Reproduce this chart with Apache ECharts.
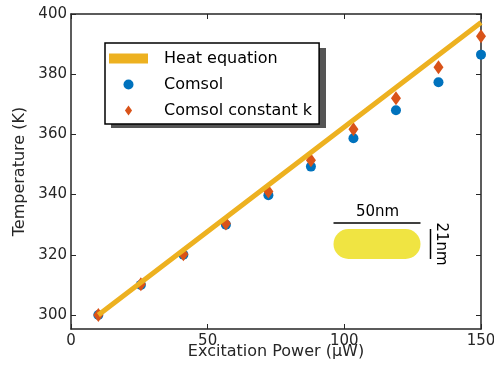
<!DOCTYPE html>
<html>
<head>
<meta charset="utf-8">
<script src="https://cdn.jsdelivr.net/npm/echarts@6/dist/echarts.min.js"></script>
<style>
  html, body { margin: 0; padding: 0; background: #fff; }
  #chart { width: 494px; height: 366px; }
</style>
</head>
<body>
<div id="chart"></div>
<script>
// excitation power (uW)
const power = [10, 25.56, 41.11, 56.67, 72.22, 87.78, 103.33, 118.89, 134.44, 150];
// temperatures (K)
const heatEquation = [300, 310.8, 321.6, 332.4, 343.2, 354.0, 364.8, 375.6, 386.4, 397.2];
const comsol = [300, 310, 320, 330, 339.8, 349.3, 358.7, 368, 377.3, 386.5];
const comsolConstK = [300, 310.2, 320.2, 330.4, 341, 351.4, 361.7, 372, 382.3, 392.6];
const yTicks = [300, 320, 340, 360, 380, 400];

const pair = (xs, ys) => xs.map((x, i) => [x, ys[i]]);

const FONT = 'DejaVu Sans';
const AXIS = '#262626';
const diamond = 'path://M0,-7L5,0L0,7L-5,0Z';

let myChart = echarts.init(document.getElementById('chart'), null, { renderer: 'canvas' });

const yMin = 295.35, yMax = 400;

const option = {
    animation: false,
    backgroundColor: '#fff',
    grid: { left: 71, right: 13, top: 14, bottom: 37, outerBoundsMode: 'none' },
    legend: {
        left: 105,
        top: 43,
        orient: 'vertical',
        itemWidth: 39,
        itemHeight: 10,
        itemGap: 9,
        padding: [7, 7, 5, 4],
        backgroundColor: '#fff',
        borderColor: '#000',
        borderWidth: 1.5,
        borderRadius: 0,
        z: 10,
        textStyle: { fontFamily: FONT, fontSize: 16, color: '#000', padding: [0, 0, 0, 11], lineHeight: 17 },
        data: [
            { name: 'Heat equation', icon: 'rect' },
            { name: 'Comsol', icon: 'circle' },
            { name: 'Comsol constant k', icon: diamond }
        ]
    },
    xAxis: [{
        type: 'value',
        min: 0, max: 150, interval: 50,
        name: 'Excitation Power (μW)',
        nameLocation: 'middle',
        nameGap: 15,
        nameMoveOverlap: false,
        nameTextStyle: { fontFamily: FONT, fontSize: 16, color: AXIS },
        axisLine: { show: true, lineStyle: { color: AXIS, width: 1.5 } },
        axisTick: { show: true, inside: true, length: 5, lineStyle: { color: AXIS } },
        axisLabel: { fontFamily: FONT, fontSize: 15, color: AXIS, margin: 5 },
        splitLine: { show: false }
    }, {
        type: 'value',
        position: 'top',
        min: 0, max: 150, interval: 50,
        axisLine: { show: true, onZero: false, lineStyle: { color: AXIS, width: 1.5 } },
        axisTick: { show: true, inside: true, length: 5, lineStyle: { color: AXIS } },
        axisLabel: { show: false },
        splitLine: { show: false }
    }],
    yAxis: [{
        type: 'value',
        min: yMin, max: yMax,
        name: 'Temperature (K)',
        nameLocation: 'middle',
        nameGap: 43,
        nameMoveOverlap: false,
        nameTextStyle: { fontFamily: FONT, fontSize: 16, color: AXIS },
        axisLine: { show: true, lineStyle: { color: AXIS, width: 1.5 } },
        axisTick: { show: true, inside: true, length: 5, customValues: yTicks, lineStyle: { color: AXIS } },
        axisLabel: { fontFamily: FONT, fontSize: 15, color: AXIS, margin: 4, customValues: yTicks },
        splitLine: { show: false }
    }, {
        type: 'value',
        position: 'right',
        min: yMin, max: yMax,
        axisLine: { show: true, onZero: false, lineStyle: { color: AXIS, width: 1.5 } },
        axisTick: { show: true, inside: true, length: 5, customValues: yTicks, lineStyle: { color: AXIS } },
        axisLabel: { show: false, customValues: yTicks },
        splitLine: { show: false }
    }],
    series: [
        {
            name: 'Comsol',
            type: 'scatter',
            symbol: 'circle',
            symbolSize: 10,
            itemStyle: { color: '#0072BD', opacity: 1 },
            data: pair(power, comsol),
            z: 2
        },
        {
            name: 'Comsol constant k',
            type: 'scatter',
            symbol: diamond,
            symbolSize: [10, 14],
            itemStyle: { color: '#D95319', opacity: 1 },
            data: pair(power, comsolConstK),
            z: 3
        },
        {
            name: 'Heat equation',
            type: 'line',
            showSymbol: false,
            symbol: 'none',
            color: '#EDB120',
            lineStyle: { color: '#EDB120', width: 5 },
            data: pair(power, heatEquation),
            z: 4
        }
    ],
    graphic: [
        {
            // legend drop shadow
            type: 'rect',
            left: 111,
            top: 48,
            z: 5,
            shape: { width: 215, height: 80 },
            style: { fill: '#555' }
        },
        {
            type: 'group',
            left: 331,
            top: 205,
            children: [
                {
                    type: 'text',
                    x: 44, y: 0,
                    style: { text: '50nm', fontFamily: FONT, fontSize: 15, fill: '#000', align: 'center', verticalAlign: 'top' }
                },
                {
                    type: 'line',
                    shape: { x1: 0, y1: 18, x2: 87, y2: 18 },
                    style: { stroke: '#000', lineWidth: 1.5 }
                },
                {
                    type: 'rect',
                    shape: { x: 0, y: 24, width: 87, height: 30, r: 15 },
                    style: { fill: '#F0E442' }
                },
                {
                    type: 'line',
                    shape: { x1: 97, y1: 24, x2: 97, y2: 54 },
                    style: { stroke: '#000', lineWidth: 1.5 }
                },
                {
                    type: 'text',
                    x: 107, y: 39,
                    rotation: -Math.PI / 2,
                    style: { text: '21nm', fontFamily: FONT, fontSize: 15, fill: '#000', align: 'center', verticalAlign: 'middle' }
                }
            ]
        }
    ]
};

// 绘制图表
myChart.setOption(option);
window.addEventListener('resize', () => {
    myChart.resize()
});
</script>
</body>
</html>
